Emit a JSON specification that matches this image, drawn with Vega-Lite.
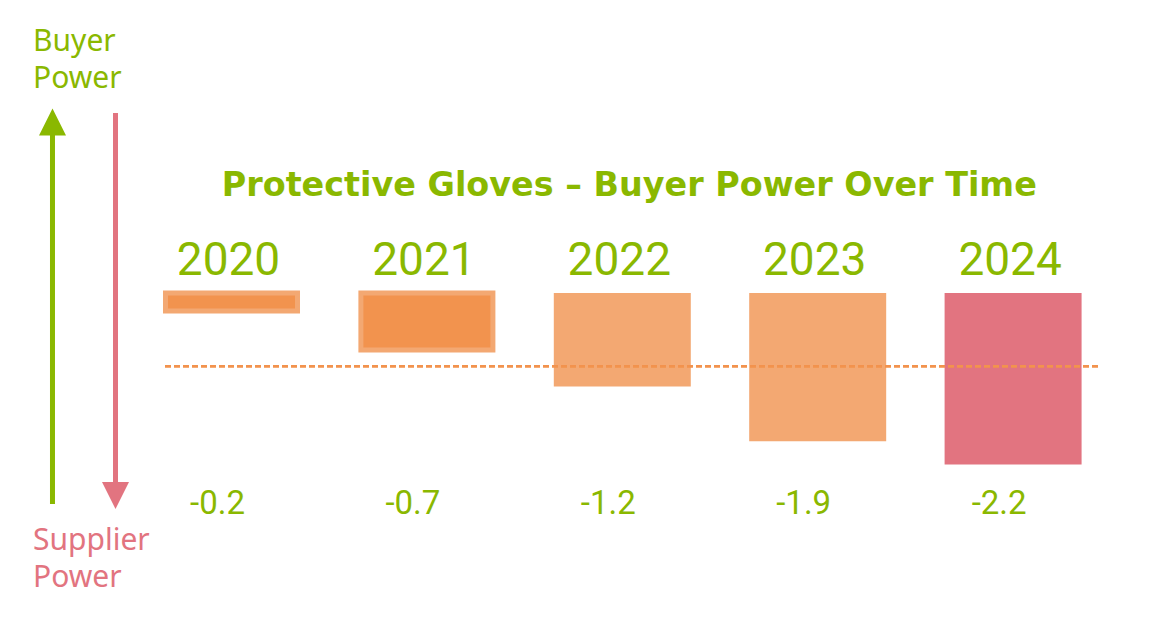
{
  "$schema": "https://vega.github.io/schema/vega-lite/v6.json",
  "padding": 0,
  "spacing": 0,
  "background": "white",
  "config": {
    "view": {"stroke": null},
    "concat": {"spacing": 0},
    "locale": {"number": {"decimal": ".", "thousands": ",", "grouping": [3], "currency": ["", ""], "minus": "-"}}
  },
  "hconcat": [
    {
      "width": 162,
      "height": 617,
      "data": {"values": [{"side": "buyer"}]},
      "layer": [
        {
          "mark": {"type": "rule", "color": "#8AB800", "strokeWidth": 5},
          "encoding": {
            "x": {"datum": 3.24, "type": "quantitative", "scale": {"domain": [0, 10], "nice": false, "zero": false}, "axis": null},
            "y": {"datum": -2.705, "type": "quantitative", "scale": {"domain": [-4.154, 3.756], "nice": false, "zero": false}, "axis": null},
            "y2": {"datum": 2.05}
          }
        },
        {
          "mark": {"type": "point", "shape": "M0,-1L1,1L-1,1Z", "filled": true, "color": "#8AB800", "opacity": 1, "size": 729},
          "encoding": {
            "x": {"datum": 3.24, "type": "quantitative"},
            "y": {"datum": 2.192, "type": "quantitative"}
          }
        },
        {
          "mark": {"type": "rule", "color": "#E27480", "strokeWidth": 5},
          "encoding": {
            "x": {"datum": 7.13, "type": "quantitative"},
            "y": {"datum": 2.308, "type": "quantitative"},
            "y2": {"datum": -2.45}
          }
        },
        {
          "mark": {"type": "point", "shape": "M-1,-1L1,-1L0,1Z", "filled": true, "color": "#E27480", "opacity": 1, "size": 729},
          "encoding": {
            "x": {"datum": 7.13, "type": "quantitative"},
            "y": {"datum": -2.596, "type": "quantitative"}
          }
        },
        {
          "mark": {"type": "text", "align": "left", "baseline": "middle", "font": "Noto Sans", "fontSize": 30, "color": "#8AB800"},
          "encoding": {
            "x": {"datum": 2.04, "type": "quantitative"},
            "y": {"datum": 3.22, "type": "quantitative"},
            "text": {"value": "Buyer"}
          }
        },
        {
          "mark": {"type": "text", "align": "left", "baseline": "middle", "font": "Noto Sans", "fontSize": 30, "color": "#8AB800"},
          "encoding": {
            "x": {"datum": 2.04, "type": "quantitative"},
            "y": {"datum": 2.74, "type": "quantitative"},
            "text": {"value": "Power"}
          }
        },
        {
          "mark": {"type": "text", "align": "left", "baseline": "middle", "font": "Noto Sans", "fontSize": 30, "color": "#E27480"},
          "encoding": {
            "x": {"datum": 2.04, "type": "quantitative"},
            "y": {"datum": -3.18, "type": "quantitative"},
            "text": {"value": "Supplier"}
          }
        },
        {
          "mark": {"type": "text", "align": "left", "baseline": "middle", "font": "Noto Sans", "fontSize": 30, "color": "#E27480"},
          "encoding": {
            "x": {"datum": 2.04, "type": "quantitative"},
            "y": {"datum": -3.66, "type": "quantitative"},
            "text": {"value": "Power"}
          }
        }
      ]
    },
    {
      "width": 935,
      "height": 617,
      "data": {
        "values": [
          {"year": "2020", "value": -0.2},
          {"year": "2021", "value": -0.7},
          {"year": "2022", "value": -1.2},
          {"year": "2023", "value": -1.9},
          {"year": "2024", "value": -2.2}
        ]
      },
      "encoding": {
        "x": {
          "field": "year", "type": "nominal", "axis": null,
          "scale": {"domain": ["2020", "2021", "2022", "2023", "2024"], "paddingInner": 0.2989, "paddingOuter": 0.042, "align": 0, "round": false}
        }
      },
      "layer": [
        {
          "transform": [{"filter": "datum.year >= '2022'"}],
          "mark": {"type": "bar"},
          "encoding": {
            "y": {"field": "value", "type": "quantitative", "scale": {"domain": [-4.154, 3.756], "nice": false, "zero": false}, "axis": null},
            "y2": {"datum": 0},
            "color": {"condition": {"test": "datum.value <= -2", "value": "#E27480"}, "value": "#F3A872"}
          }
        },
        {
          "transform": [{"filter": "datum.year < '2022'"}],
          "mark": {"type": "bar", "width": 132, "fill": "#F2934E", "stroke": "#F3A872", "strokeWidth": 5, "strokeJoin": "miter", "yOffset": 2.5},
          "encoding": {
            "y": {"field": "value", "type": "quantitative"},
            "y2": {"datum": 0}
          }
        },
        {
          "mark": {"type": "rule", "color": "#F2934E", "strokeWidth": 2, "strokeDash": [6, 3]},
          "encoding": {
            "x": null,
            "y": {"datum": -0.94, "type": "quantitative"}
          }
        },
        {
          "mark": {"type": "text", "font": "Roboto", "fontSize": 46, "color": "#8AB800", "baseline": "middle", "dx": -3},
          "encoding": {
            "y": {"datum": 0.41, "type": "quantitative"},
            "text": {"field": "year"}
          }
        },
        {
          "mark": {"type": "text", "font": "Roboto", "fontSize": 33, "color": "#8AB800", "baseline": "middle", "dx": -14},
          "encoding": {
            "y": {"datum": -2.705, "type": "quantitative"},
            "text": {"field": "value", "format": ".1f"}
          }
        },
        {
          "data": {"values": [{"t": "Protective Gloves – Buyer Power Over Time"}]},
          "mark": {"type": "text", "font": "DejaVu Sans", "fontWeight": "bold", "fontSize": 33.4, "color": "#8AB800", "baseline": "middle", "dx": 7},
          "encoding": {
            "x": {"datum": "2022"},
            "y": {"datum": 1.37, "type": "quantitative"},
            "text": {"field": "t"}
          }
        }
      ]
    }
  ]
}
